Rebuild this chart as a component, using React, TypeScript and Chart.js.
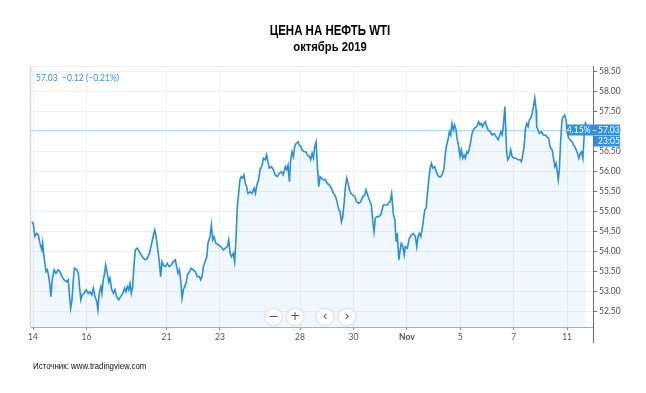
import React, { useEffect, useRef } from 'react';
import { Chart, registerables } from 'chart.js';

Chart.register(...registerables);

const titleText = 'ЦЕНА НА НЕФТЬ WTI';
const subtitleText = 'октябрь 2019';
const sourceText = 'Источник: www.tradingview.com';
const quoteText = '57.03  −0.12 (−0.21%)';
const lastPrice = 57.03;
const changePctText = '4.15%';
const timeText = '23:05';

// trading-day index (0 = Oct 14) and tick labels
const tickDays = [0, 2, 5, 7, 10, 12, 14, 16, 18, 20];
const tickLabels = ['14', '16', '21', '23', '28', '30', 'Nov', '5', '7', '11'];
const yTickValues = [52.5, 53, 53.5, 54, 54.5, 55, 55.5, 56, 56.5, 57, 57.5, 58, 58.5];

const days = [
  -0.05, 0.01, 0.07, 0.14, 0.2, 0.26, 0.33, 0.36, 0.41, 0.49,
  0.54, 0.59, 0.64, 0.67, 0.72, 0.79, 0.86, 0.94, 1.01, 1.09,
  1.16, 1.26, 1.32, 1.36, 1.41, 1.46, 1.51, 1.55, 1.64, 1.7,
  1.73, 1.79, 1.84, 1.91, 1.99, 2.07, 2.13, 2.2, 2.26, 2.32,
  2.39, 2.43, 2.48, 2.54, 2.58, 2.63, 2.67, 2.72, 2.78, 2.84,
  2.88, 2.95, 3.01, 3.07, 3.13, 3.21, 3.28, 3.36, 3.43, 3.48,
  3.53, 3.58, 3.63, 3.68, 3.73, 3.78, 3.83, 3.91, 3.98, 4.06,
  4.13, 4.21, 4.28, 4.36, 4.43, 4.51, 4.56, 4.61, 4.66, 4.73,
  4.78, 4.83, 4.88, 4.96, 5.03, 5.1, 5.18, 5.25, 5.33, 5.38,
  5.43, 5.48, 5.53, 5.58, 5.63, 5.68, 5.73, 5.78, 5.85, 5.93,
  6.0, 6.08, 6.15, 6.23, 6.28, 6.33, 6.38, 6.44, 6.51, 6.55,
  6.63, 6.68, 6.73, 6.78, 6.85, 6.96, 7.03, 7.13, 7.2, 7.28,
  7.33, 7.38, 7.43, 7.5, 7.55, 7.6, 7.65, 7.7, 7.75, 7.8,
  7.85, 7.9, 7.95, 8.0, 8.05, 8.13, 8.2, 8.28, 8.33, 8.38,
  8.45, 8.5, 8.58, 8.63, 8.7, 8.75, 8.8, 8.85, 8.93, 9.0,
  9.07, 9.15, 9.22, 9.3, 9.37, 9.45, 9.5, 9.55, 9.6, 9.65,
  9.7, 9.75, 9.8, 9.85, 9.93, 9.97, 10.03, 10.07, 10.15, 10.22,
  10.27, 10.35, 10.4, 10.45, 10.5, 10.55, 10.6, 10.65, 10.7, 10.75,
  10.8, 10.87, 10.95, 11.02, 11.1, 11.17, 11.25, 11.3, 11.35, 11.4,
  11.45, 11.5, 11.55, 11.6, 11.65, 11.7, 11.75, 11.8, 11.85, 11.9,
  11.97, 12.05, 12.12, 12.2, 12.27, 12.35, 12.42, 12.47, 12.55, 12.62,
  12.67, 12.72, 12.77, 12.82, 12.87, 12.95, 13.02, 13.12, 13.25, 13.37,
  13.43, 13.49, 13.55, 13.6, 13.64, 13.7, 13.75, 13.79, 13.85, 13.9,
  13.94, 14.02, 14.09, 14.17, 14.24, 14.32, 14.37, 14.42, 14.47, 14.52,
  14.57, 14.62, 14.67, 14.72, 14.77, 14.82, 14.87, 14.92, 14.97, 15.04,
  15.12, 15.19, 15.27, 15.34, 15.39, 15.44, 15.49, 15.54, 15.59, 15.64,
  15.69, 15.74, 15.79, 15.84, 15.89, 15.94, 15.99, 16.04, 16.09, 16.14,
  16.19, 16.24, 16.29, 16.34, 16.39, 16.44, 16.49, 16.54, 16.62, 16.69,
  16.74, 16.79, 16.84, 16.89, 16.94, 16.99, 17.04, 17.12, 17.19, 17.27,
  17.34, 17.42, 17.46, 17.52, 17.57, 17.61, 17.67, 17.7, 17.74, 17.78,
  17.84, 17.89, 17.94, 18.01, 18.09, 18.16, 18.24, 18.29, 18.34, 18.39,
  18.44, 18.49, 18.54, 18.59, 18.64, 18.69, 18.74, 18.79, 18.84, 18.86,
  18.91, 18.96, 19.04, 19.11, 19.19, 19.24, 19.31, 19.36, 19.44, 19.49,
  19.54, 19.59, 19.64, 19.67, 19.71, 19.76, 19.81, 19.86, 19.91, 19.96,
  20.01, 20.06, 20.11, 20.19, 20.24, 20.29, 20.34, 20.39, 20.44, 20.49,
  20.54, 20.59, 20.64, 20.69, 20.71,
];

const prices = [
  54.73, 54.69, 54.36, 54.44, 54.4, 54.19, 54.03, 54.19, 53.86, 53.48,
  53.53, 53.36, 53.11, 52.86, 53.28, 53.53, 53.44, 53.53, 53.48, 53.36,
  53.28, 53.23, 53.28, 52.94, 52.57, 52.78, 53.28, 53.57, 53.53, 53.44,
  53.19, 52.78, 52.9, 52.94, 53.03, 52.94, 52.98, 52.9, 53.07, 52.86,
  52.73, 52.53, 52.94, 53.11, 52.94, 53.28, 53.4, 53.65, 53.44, 53.23,
  53.32, 53.03, 52.94, 53.03, 52.86, 52.78, 52.86, 52.94, 53.07, 52.98,
  53.11, 53.03, 53.19, 52.94, 53.11, 53.61, 54.03, 54.07, 53.98, 53.9,
  53.82, 53.78, 53.82, 53.94, 54.15, 54.4, 54.53, 54.36, 54.11, 53.73,
  53.36, 53.73, 53.65, 53.61, 53.69, 53.61, 53.65, 53.73, 53.78, 53.61,
  53.44, 53.53, 53.28, 52.82, 53.03, 53.11, 53.19, 53.4, 53.48, 53.57,
  53.53, 53.48, 53.36, 53.36, 53.28, 53.36, 53.61, 53.73, 53.86, 54.19,
  54.36, 54.65, 54.28, 54.36, 54.19, 54.15, 54.11, 54.03, 54.07, 54.11,
  54.28, 53.94, 53.86, 53.94, 53.73, 54.28, 55.11, 55.44, 55.78, 55.86,
  55.82, 55.9, 55.69, 55.61, 55.44, 55.48, 55.44, 55.57, 55.44, 55.65,
  55.78, 56.03, 56.15, 56.32, 56.28, 56.4, 56.23, 56.07, 56.11, 56.03,
  55.9, 55.86, 55.94, 55.98, 55.9, 56.11, 56.03, 56.15, 55.73, 56.28,
  56.48, 56.36, 56.61, 56.69, 56.73, 56.65, 56.61, 56.53, 56.48, 56.48,
  56.4, 56.36, 56.28, 56.44, 56.32, 56.61, 56.73, 56.11, 55.61, 55.86,
  55.82, 55.78, 55.78, 55.69, 55.65, 55.57, 55.44, 55.4, 55.32, 55.19,
  55.03, 54.98, 54.73, 54.86, 55.19, 55.61, 55.82, 55.69, 55.53, 55.44,
  55.4, 55.36, 55.23, 55.19, 55.23, 55.36, 55.4, 55.53, 55.36, 55.23,
  55.15, 54.78, 54.48, 54.82, 54.86, 54.86, 54.9, 55.15, 55.15, 55.23,
  55.44, 54.94, 54.78, 54.23, 54.44, 53.78, 54.03, 54.19, 54.11, 53.9,
  54.11, 54.07, 54.32, 54.4, 54.44, 54.36, 54.11, 54.36, 54.44, 54.36,
  54.53, 54.78, 55.03, 55.07, 55.44, 55.78, 56.07, 56.19, 56.07, 56.11,
  55.94, 55.86, 55.86, 55.94, 56.07, 56.44, 56.65, 56.78, 56.98, 56.9,
  57.19, 57.03, 57.15, 57.03, 56.78, 56.61, 56.36, 56.53, 56.32, 56.4,
  56.32, 56.48, 56.44, 56.57, 56.73, 56.94, 57.03, 57.07, 57.11, 57.23,
  57.15, 57.19, 57.11, 57.19, 57.23, 57.11, 57.03, 56.98, 56.9, 56.94,
  56.86, 56.78, 56.86, 56.98, 56.9, 57.11, 57.61, 57.11, 56.44, 56.28,
  56.36, 56.53, 56.36, 56.32, 56.32, 56.28, 56.28, 56.23, 56.4, 56.61,
  57.07, 57.19, 57.11, 57.28, 57.32, 57.44, 57.61, 57.82, 57.53, 57.11,
  57.03, 56.94, 56.98, 56.9, 56.9, 56.86, 56.82, 56.61, 56.53, 56.32,
  56.11, 56.19, 55.94, 55.78, 56.03, 56.78, 57.28, 57.36, 57.4, 57.28,
  56.94, 56.82, 56.78, 56.73, 56.65, 56.61, 56.53, 56.44, 56.32, 56.44,
  56.48, 56.32, 56.9, 57.23, 57.03,
];

const LINE = 'rgb(41,142,226)';
const BOX = 'rgb(45,146,230)';
const UI_FONT = 'Lato, "DejaVu Sans", sans-serif';

function narrowText(ctx: CanvasRenderingContext2D, text: string, cx: number, y: number, font: string, scaleX: number, align: 'center' | 'left') {
  ctx.save();
  ctx.font = font;
  ctx.textBaseline = 'alphabetic';
  ctx.textAlign = 'left';
  const w = ctx.measureText(text).width * scaleX;
  const x0 = align === 'center' ? cx - w / 2 : cx;
  ctx.translate(x0, y);
  ctx.scale(scaleX, 1);
  ctx.fillText(text, 0, 0);
  ctx.restore();
}

const extras = {
  id: 'extras',
  beforeDraw(chart: any) {
    const { ctx } = chart;
    ctx.save();
    ctx.fillStyle = '#ffffff';
    ctx.fillRect(0, 0, chart.width, chart.height);
    ctx.restore();
  },
  beforeDatasetsDraw(chart: any) {
    const { ctx, chartArea: a } = chart;
    const y = Math.round(chart.scales.y.getPixelForValue(lastPrice)) + 0.5;
    ctx.save();
    ctx.strokeStyle = 'rgba(45,146,230,0.35)';
    ctx.lineWidth = 1;
    ctx.beginPath();
    ctx.moveTo(a.left, y);
    ctx.lineTo(a.right, y);
    ctx.stroke();
    ctx.restore();
  },
  afterDraw(chart: any) {
    const { ctx, chartArea: a } = chart;
    ctx.save();
    // frame left/top edges
    ctx.strokeStyle = '#d6d9e0';
    ctx.lineWidth = 1.5;
    ctx.beginPath();
    ctx.moveTo(a.left - 0.5, a.top);
    ctx.lineTo(a.left - 0.5, a.bottom);
    ctx.stroke();
    ctx.strokeStyle = '#eef0f4';
    ctx.lineWidth = 1;
    ctx.beginPath();
    ctx.moveTo(a.left, a.top + 0.5);
    ctx.lineTo(a.right, a.top + 0.5);
    ctx.stroke();
    // right axis line extension below the x axis
    ctx.strokeStyle = '#6a6d75';
    ctx.beginPath();
    ctx.moveTo(a.right + 0.5, a.bottom);
    ctx.lineTo(a.right + 0.5, a.bottom + 16);
    ctx.stroke();

    // titles
    ctx.fillStyle = '#000';
    narrowText(ctx, titleText, 330, 35, 'bold 14px "Liberation Sans", Arial, sans-serif', 0.82, 'center');
    narrowText(ctx, subtitleText, 330, 51, 'bold 12.5px "Liberation Sans", Arial, sans-serif', 0.9, 'center');
    // source
    ctx.fillStyle = '#111';
    narrowText(ctx, sourceText, 33, 369, '9.5px "Liberation Sans", Arial, sans-serif', 0.83, 'left');

    // quote label top-left
    ctx.fillStyle = '#3d8fd4';
    ctx.font = '8.5px ' + UI_FONT;
    ctx.textBaseline = 'middle';
    ctx.textAlign = 'left';
    ctx.fillText(quoteText, a.left + 5, a.top + 12);

    // price labels on the right
    const py = Math.round(chart.scales.y.getPixelForValue(lastPrice));
    ctx.fillStyle = BOX;
    ctx.fillRect(a.right - 26, py - 5.5, 53, 11);
    ctx.fillRect(a.right + 1, py + 6, 26, 10.5);
    ctx.strokeStyle = '#ffffff';
    ctx.lineWidth = 1;
    ctx.beginPath();
    ctx.moveTo(a.right, py + 0.5);
    ctx.lineTo(a.right + 3, py + 0.5);
    ctx.stroke();
    ctx.fillStyle = '#ffffff';
    ctx.font = '8.5px ' + UI_FONT;
    ctx.textBaseline = 'middle';
    ctx.textAlign = 'right';
    ctx.fillText(changePctText, a.right - 2.5, py + 0.5);
    ctx.textAlign = 'left';
    ctx.fillText(lastPrice.toFixed(2), a.right + 5, py + 0.5);
    ctx.fillText(timeText, a.right + 5, py + 11.5);

    // navigation buttons
    const cx = (a.left + a.right) / 2 - 2;
    const by = a.bottom - 10;
    const btns = [
      { dx: -36.5, s: '−' },
      { dx: -15, s: '+' },
      { dx: 15, s: '‹' },
      { dx: 37, s: '›' },
    ];
    btns.forEach((b) => {
      ctx.save();
      ctx.shadowColor = 'rgba(0,0,0,0.12)';
      ctx.shadowBlur = 3;
      ctx.beginPath();
      ctx.arc(cx + b.dx, by, 8.5, 0, Math.PI * 2);
      ctx.fillStyle = '#ffffff';
      ctx.fill();
      ctx.restore();
      ctx.strokeStyle = '#e3e5ea';
      ctx.lineWidth = 1;
      ctx.beginPath();
      ctx.arc(cx + b.dx, by, 8.5, 0, Math.PI * 2);
      ctx.stroke();
      ctx.fillStyle = '#4a4d55';
      ctx.font = (b.s === '‹' || b.s === '›' ? '13px ' : '12px ') + '"DejaVu Sans", sans-serif';
      ctx.textAlign = 'center';
      ctx.textBaseline = 'middle';
      ctx.fillText(b.s, cx + b.dx, by + (b.s === '‹' || b.s === '›' ? -0.5 : 0));
    });
    ctx.restore();
  },
};

export default function App() {
  const ref = useRef<HTMLCanvasElement>(null);

  useEffect(() => {
    if (!ref.current) return;
    const data = days.map((d, i) => ({ x: d, y: prices[i] }));
    const chart = new Chart(ref.current, {
      type: 'line',
      data: {
        datasets: [
          {
            data,
            borderColor: LINE,
            borderWidth: 1.6,
            pointRadius: 0,
            tension: 0,
            fill: 'start',
            backgroundColor: 'rgba(45,146,230,0.065)',
          },
        ],
      },
      options: {
        responsive: false,
        animation: false,
        events: [],
        layout: { padding: { left: 31, top: 66, right: 0, bottom: 46 } },
        plugins: {
          legend: { display: false },
          title: { display: false },
          tooltip: { enabled: false },
        },
        scales: {
          x: {
            type: 'linear',
            min: -0.075,
            max: 20.97,
            afterBuildTicks: (s: any) => {
              s.ticks = tickDays.map((v) => ({ value: v }));
            },
            afterFit: (s: any) => {
              s.height = 20;
            },
            ticks: {
              autoSkip: false,
              maxRotation: 0,
              padding: 2,
              color: '#50535c',
              font: (c: any) => ({
                family: UI_FONT,
                size: 8.5,
                weight: c.tick && c.tick.label === 'Nov' ? 'bold' : 'normal',
              }),
              callback: (v: any) => {
                const i = tickDays.indexOf(Number(v));
                return i >= 0 ? tickLabels[i] : '';
              },
            },
            grid: {
              color: '#eef1f6',
              tickLength: 3,
              tickColor: '#8a8d95',
              drawTicks: true,
            },
            border: { display: true, color: '#a9acb4', width: 1 },
          },
          y: {
            position: 'right',
            min: 52.1,
            max: 58.625,
            afterBuildTicks: (s: any) => {
              s.ticks = yTickValues.map((v) => ({ value: v }));
            },
            afterFit: (s: any) => {
              s.width = 53;
            },
            ticks: {
              padding: 2,
              color: '#4a4d55',
              font: { family: UI_FONT, size: 8.5 },
              callback: (v: any) => Number(v).toFixed(2),
            },
            grid: {
              color: '#eef1f6',
              tickLength: 4,
              tickColor: '#6a6d75',
            },
            border: { display: true, color: '#6a6d75', width: 1 },
          },
        },
      },
      plugins: [extras],
    });
    return () => chart.destroy();
  }, []);

  return (
    <div style={{ position: 'fixed', left: 0, top: 0, width: 646, height: 393, background: '#fff' }}>
      <canvas ref={ref} width={646} height={393} style={{ width: 646, height: 393, display: 'block' }} />
    </div>
  );
}
